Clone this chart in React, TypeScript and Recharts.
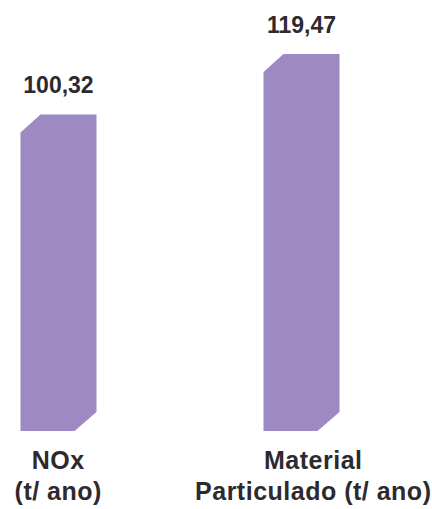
import React from 'react';
import { BarChart, Bar, XAxis, YAxis, LabelList } from 'recharts';

const categories = ['NOx', 'Material Particulado'];
const tickLines = [
  ['NOx', '(t/ ano)'],
  ['Material', 'Particulado (t/ ano)'],
];
const emissions = [100.32, 119.47];

const data = categories.map((name, i) => ({ name, value: emissions[i] }));

const BAR_COLOR = '#9d8ac2';
const TEXT_COLOR = '#2c2a2e';
const FONT = '"Liberation Sans", Arial, sans-serif';
const WIDTH = 432;
const HEIGHT = 509;
const TICK_SPACING = 0.5;

// bar with the top-left and bottom-right corners cut off
const ChamferBar = (props: any) => {
  const { x, y, width, height, fill } = props;
  const tl = 20, tlv = 18, br = 22, brv = 19;
  const d = `M${x},${y + tlv} L${x + tl},${y} L${x + width},${y} L${x + width},${y + height - brv} L${x + width - br},${y + height} L${x},${y + height} Z`;
  return <path d={d} fill={fill} />;
};

const CategoryTick = (props: any) => {
  const { x, y, index } = props;
  const lines = tickLines[index] || [];
  // the long second label sits a little right of its bar in the original
  const shift = index === tickLines.length - 1 ? 12 : 0;
  return (
    <g>
      {lines.map((l, i) => (
        <text key={i} x={x + shift + TICK_SPACING / 2} y={y + 38 + i * 31} textAnchor="middle" fill={TEXT_COLOR}
          style={{ fontFamily: FONT, fontSize: 25, fontWeight: 700, letterSpacing: TICK_SPACING }}>
          {l}
        </text>
      ))}
    </g>
  );
};

export default function App() {
  return (
    <div style={{ position: 'absolute', left: 0, top: 0, width: WIDTH, height: HEIGHT, background: '#fff' }}>
      <BarChart
        width={WIDTH}
        height={HEIGHT}
        data={data}
        margin={{ top: 54, right: 9.5, left: -63.5, bottom: 0 }}
        barSize={76}
      >
        <XAxis
          dataKey="name"
          axisLine={false}
          tickLine={false}
          tickSize={0}
          tickMargin={0}
          height={78}
          interval={0}
          tick={<CategoryTick />}
        />
        <YAxis hide domain={[0, 'dataMax']} />
        <Bar dataKey="value" fill={BAR_COLOR} shape={<ChamferBar />} isAnimationActive={false}>
          <LabelList
            dataKey="value"
            position="top"
            offset={21}
            formatter={(v: any) => Number(v).toFixed(2).replace('.', ',')}
            fill={TEXT_COLOR}
            style={{ fontFamily: FONT, fontSize: 23, fontWeight: 700 }}
          />
        </Bar>
      </BarChart>
    </div>
  );
}
